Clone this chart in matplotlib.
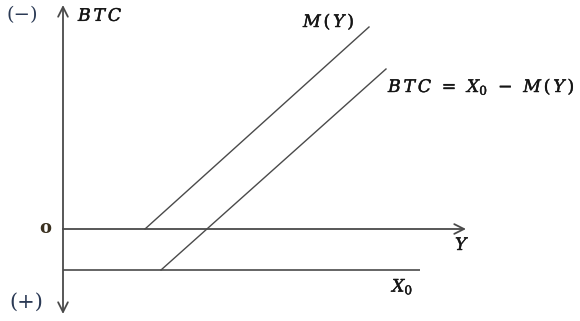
import matplotlib
matplotlib.use("Agg")
import matplotlib.pyplot as plt
import matplotlib.patheffects as pe
import numpy as np

plt.rcParams['mathtext.fontset'] = 'dejavuserif'

# coordinates relative to origin (Y along x, BTC upward)
m_line_x = [82, 306]
m_line_y = [0, 202]
btc_line_x = [98, 323]
btc_line_y = [-41, 160]
x0_level = -41
x0_line_x = [0, 357]
y_axis_len = 403
v_axis_top = 224
v_axis_bottom = -85

line_col = '#4a4a4a'
text_col = '#151515'

fig = plt.figure(figsize=(5.80, 3.21), dpi=100)
ax = fig.add_axes([0, 0, 1, 1])
ax.set_xlim(-63, 517)
ax.set_ylim(-92, 229)
ax.axis('off')

arrow = dict(arrowstyle='->,head_length=0.7,head_width=0.35', color=line_col, lw=1.3, shrinkA=0, shrinkB=0)
ax.annotate('', xy=(0, v_axis_top), xytext=(0, 0), arrowprops=arrow)
ax.annotate('', xy=(0, v_axis_bottom), xytext=(0, 0), arrowprops=arrow)
ax.annotate('', xy=(y_axis_len, 0), xytext=(0, 0), arrowprops=arrow)

ax.plot(x0_line_x, [x0_level, x0_level], color=line_col, lw=1.2, solid_capstyle='butt')
ax.plot(m_line_x, m_line_y, color=line_col, lw=1.0)
ax.plot(btc_line_x, btc_line_y, color=line_col, lw=1.0)

thick = [pe.withStroke(linewidth=0.3, foreground=text_col)]
fs = 12.5
ax.text(-56, 214, '(−)', fontsize=14, family='DejaVu Serif', color='#2b3a55', va='center', ha='left')
ax.text(-54, -73, '(+)', fontsize=15, family='DejaVu Serif', color='#2b3a55', va='center', ha='left')
ax.text(-24, 1, 'o', fontsize=13, family='DejaVu Serif', color='#3a3020', va='center', ha='left', fontweight='bold')
ax.text(15, 213, r'$B\,T\,C$', fontsize=fs, color=text_col, va='center', ha='left', path_effects=thick)
ax.text(240, 207, r'$M\,(\,Y\,)$', fontsize=fs, color=text_col, va='center', ha='left', path_effects=thick)
ax.text(325, 142, r'$B\,T\,C\;\,=\;\,X_0\;\,-\;\,M\,(\,Y\,)$', fontsize=fs, color=text_col,
        va='center', ha='left', path_effects=thick)
ax.text(392, -16, r'$Y$', fontsize=fs, color=text_col, va='center', ha='left', path_effects=thick)
ax.text(329, -58, r'$X_0$', fontsize=fs, color=text_col, va='center', ha='left', path_effects=thick)

fig.savefig('out.png', dpi=100)
